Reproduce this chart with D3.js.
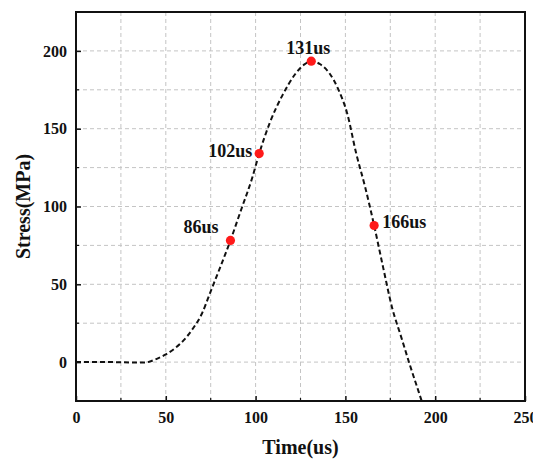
<!DOCTYPE html>
<html>
<head>
<meta charset="utf-8">
<script src="https://cdn.jsdelivr.net/npm/d3@7"></script>
<style>
  html, body { margin: 0; padding: 0; background: #fff; }
  svg text { font-family: "Liberation Serif", "Times New Roman", serif; font-weight: bold; fill: #111; }
</style>
</head>
<body>
<svg id="chart" width="533" height="459"></svg>
<script>
// Stress wave history (time in us, stress in MPa)
const curveTime   = [0, 20, 30, 38, 45, 50, 55, 60, 65, 70, 75, 80, 86, 92, 98, 102, 108, 115, 122, 127, 131, 136, 141, 146, 151, 156, 161, 166, 171, 176, 181, 186, 191, 195];
const curveStress = [0, 0, -0.2, -0.3, 2.1, 4.9, 8.8, 14.1, 21.4, 30.9, 45.5, 60.1, 78.2, 98.1, 118, 134, 154.1, 171.6, 185, 191.2, 193.4, 191.4, 185.8, 175.4, 159.8, 134.2, 112.5, 87.8, 60.9, 35, 16.4, -2.2, -19.8, -34];

// Marked instants
const markTime   = [86, 102, 131, 166];
const markStress = [78.2, 134, 193.4, 87.8];
const markLabels = ["86us", "102us", "131us", "166us"];

// Axis ticks
const xTicks = [0, 50, 100, 150, 200, 250];
const yTicks = [0, 50, 100, 150, 200];
const gridStep = 25;

const svg = d3.select("#chart");
const pLeft = 76, pRight = 525, pTop = 12, pBottom = 401;

const x = d3.scaleLinear().domain([0, 250]).range([pLeft, pRight]);
const y = d3.scaleLinear().domain([-25, 225]).range([pBottom, pTop]);

// dashed grid every 25 units
const xGrid = d3.range(gridStep, 250, gridStep);
const yGrid = d3.range(0, 225, gridStep);
const grid = svg.append("g");
grid.selectAll("line.gx").data(xGrid).join("line")
  .attr("x1", d => x(d)).attr("x2", d => x(d))
  .attr("y1", pTop).attr("y2", pBottom)
  .attr("stroke", "#c4c4c4").attr("stroke-width", 1).attr("stroke-dasharray", "4,3");
grid.selectAll("line.gy").data(yGrid).join("line")
  .attr("x1", pLeft).attr("x2", pRight)
  .attr("y1", d => y(d)).attr("y2", d => y(d))
  .attr("stroke", "#c4c4c4").attr("stroke-width", 1).attr("stroke-dasharray", "4,3");

// clip for the curve
svg.append("clipPath").attr("id", "plotClip")
  .append("rect").attr("x", pLeft).attr("y", pTop).attr("width", pRight - pLeft).attr("height", pBottom - pTop);

const pts = curveTime.map((t, i) => [t, curveStress[i]]);
const line = d3.line().x(d => x(d[0])).y(d => y(d[1])).curve(d3.curveMonotoneX);
svg.append("path")
  .attr("clip-path", "url(#plotClip)")
  .attr("d", line(pts))
  .attr("fill", "none").attr("stroke", "#111").attr("stroke-width", 2)
  .attr("stroke-dasharray", "5,3");

// marked points
const marks = markTime.map((t, i) => ({ t, s: markStress[i], label: markLabels[i] }));
svg.selectAll("circle.mark").data(marks).join("circle")
  .attr("cx", d => x(d.t)).attr("cy", d => y(d.s)).attr("r", 4.6)
  .attr("fill", "#ff1a1a");

const labelPos = {
  "86us":  { dx: -12, dy: -7, anchor: "end" },
  "102us": { dx: -7,  dy: 3,  anchor: "end" },
  "131us": { dx: -3,  dy: -7, anchor: "middle" },
  "166us": { dx: 8,   dy: 3,  anchor: "start" }
};
svg.selectAll("text.mark").data(marks).join("text")
  .attr("x", d => x(d.t) + labelPos[d.label].dx)
  .attr("y", d => y(d.s) + labelPos[d.label].dy)
  .attr("text-anchor", d => labelPos[d.label].anchor)
  .attr("font-size", 18)
  .text(d => d.label);

// axes with inward ticks
const xAxis = svg.append("g").attr("transform", `translate(0,${pBottom})`)
  .call(d3.axisBottom(x).tickValues(xTicks).tickSize(-5).tickPadding(11).tickFormat(d3.format("d")));
const yAxis = svg.append("g").attr("transform", `translate(${pLeft},0)`)
  .call(d3.axisLeft(y).tickValues(yTicks).tickSize(-5).tickPadding(9).tickFormat(d3.format("d")));
[xAxis, yAxis].forEach(g => {
  g.select(".domain").remove();
  g.selectAll(".tick line").attr("stroke", "#111").attr("stroke-width", 1.5);
  g.selectAll(".tick text").attr("font-size", 16).attr("fill", "#111")
    .style("font-family", "'Liberation Serif', serif").style("font-weight", "bold");
});

// minor ticks
const minorX = d3.range(25, 250, 50);
const minorY = d3.range(25, 225, 50);
svg.selectAll("line.mx").data(minorX).join("line")
  .attr("x1", d => x(d)).attr("x2", d => x(d)).attr("y1", pBottom).attr("y2", pBottom - 3)
  .attr("stroke", "#111").attr("stroke-width", 1.2);
svg.selectAll("line.my").data(minorY).join("line")
  .attr("x1", pLeft).attr("x2", pLeft + 3).attr("y1", d => y(d)).attr("y2", d => y(d))
  .attr("stroke", "#111").attr("stroke-width", 1.2);

// frame
svg.append("rect").attr("x", pLeft).attr("y", pTop).attr("width", pRight - pLeft).attr("height", pBottom - pTop)
  .attr("fill", "none").attr("stroke", "#111").attr("stroke-width", 2);

// axis titles
svg.append("text").attr("x", (pLeft + pRight) / 2).attr("y", 454).attr("text-anchor", "middle")
  .attr("font-size", 20).text("Time(us)");
svg.append("text").attr("transform", `translate(30,${(pTop + pBottom) / 2}) rotate(-90)`)
  .attr("text-anchor", "middle").attr("font-size", 20).text("Stress(MPa)");
</script>
</body>
</html>
